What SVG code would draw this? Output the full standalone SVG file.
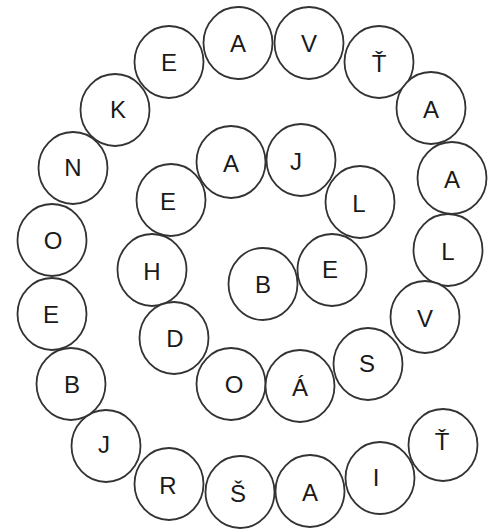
<svg xmlns="http://www.w3.org/2000/svg" width="493" height="532" viewBox="0 0 493 532">
<style>
.c ellipse{fill:#fff;stroke:#333;stroke-width:1.8}
.c text{font-family:"Liberation Sans",Arial,sans-serif;font-size:24px;fill:#1a1a1a;text-anchor:middle}
</style>
<defs>
<ellipse id="o" rx="34.5" ry="36"/>
</defs>
<rect width="493" height="532" fill="#fff"/>
<g id="connectors"/>
<g class="c">
<g id="o1"><ellipse cx="169" cy="62" rx="34.5" ry="36"/><text x="169" y="71">E</text></g>
<g id="o2"><ellipse cx="238" cy="43" rx="34.5" ry="36"/><text x="238" y="52">A</text></g>
<g id="o3"><ellipse cx="309" cy="43" rx="34.5" ry="36"/><text x="309" y="52">V</text></g>
<g id="o4"><ellipse cx="379" cy="62" rx="34.5" ry="36"/><text x="379" y="72">Ť</text></g>
<g id="o5"><ellipse cx="431" cy="108" rx="34.5" ry="36"/><text x="431" y="118">A</text></g>
<g id="o6"><ellipse cx="452" cy="178" rx="34.5" ry="36"/><text x="452" y="188">A</text></g>
<g id="o7"><ellipse cx="448" cy="250" rx="34.5" ry="36"/><text x="448" y="260">L</text></g>
<g id="o8"><ellipse cx="425" cy="317" rx="34.5" ry="36"/><text x="425" y="327">V</text></g>
<g id="o9"><ellipse cx="443" cy="445" rx="34.5" ry="36"/><text x="442" y="450">Ť</text></g>
<g id="o10"><ellipse cx="380" cy="478" rx="34.5" ry="36"/><text x="376" y="486">I</text></g>
<g id="o11"><ellipse cx="310" cy="491" rx="34.5" ry="36"/><text x="310" y="501">A</text></g>
<g id="o12"><ellipse cx="240" cy="492" rx="34.5" ry="36"/><text x="238" y="502">Š</text></g>
<g id="o13"><ellipse cx="169" cy="484" rx="34.5" ry="36"/><text x="168" y="494">R</text></g>
<g id="o14"><ellipse cx="106" cy="446" rx="34.5" ry="36"/><text x="104" y="453">J</text></g>
<g id="o15"><ellipse cx="71" cy="384" rx="34.5" ry="36"/><text x="72" y="393">B</text></g>
<g id="o16"><ellipse cx="52" cy="314" rx="34.5" ry="36"/><text x="51" y="323">E</text></g>
<g id="o17"><ellipse cx="52" cy="240" rx="34.5" ry="36"/><text x="53" y="249">O</text></g>
<g id="o18"><ellipse cx="73" cy="168" rx="34.5" ry="36"/><text x="73" y="176">N</text></g>
<g id="o19"><ellipse cx="115" cy="110" rx="34.5" ry="36"/><text x="118" y="118">K</text></g>
<g id="i1"><ellipse cx="231" cy="162" rx="34.5" ry="36"/><text x="231" y="172">A</text></g>
<g id="i2"><ellipse cx="301" cy="160" rx="34.5" ry="36"/><text x="296" y="170">J</text></g>
<g id="i3"><ellipse cx="360" cy="202" rx="34.5" ry="36"/><text x="359" y="212">L</text></g>
<g id="i4"><ellipse cx="332" cy="270" rx="34.5" ry="36"/><text x="330" y="278">E</text></g>
<g id="i5"><ellipse cx="263" cy="284" rx="34.5" ry="36"/><text x="263" y="293">B</text></g>
<g id="i6"><ellipse cx="171" cy="200" rx="34.5" ry="36"/><text x="168" y="210">E</text></g>
<g id="i7"><ellipse cx="152" cy="270" rx="34.5" ry="36"/><text x="152" y="280">H</text></g>
<g id="i8"><ellipse cx="174" cy="338" rx="34.5" ry="36"/><text x="175" y="347">D</text></g>
<g id="i9"><ellipse cx="231" cy="384" rx="34.5" ry="36"/><text x="234" y="393">O</text></g>
<g id="i10"><ellipse cx="300" cy="386" rx="34.5" ry="36"/><text x="300" y="396">Á</text></g>
<g id="i11"><ellipse cx="368" cy="364" rx="34.5" ry="36"/><text x="367" y="372">S</text></g>
</g>
</svg>
